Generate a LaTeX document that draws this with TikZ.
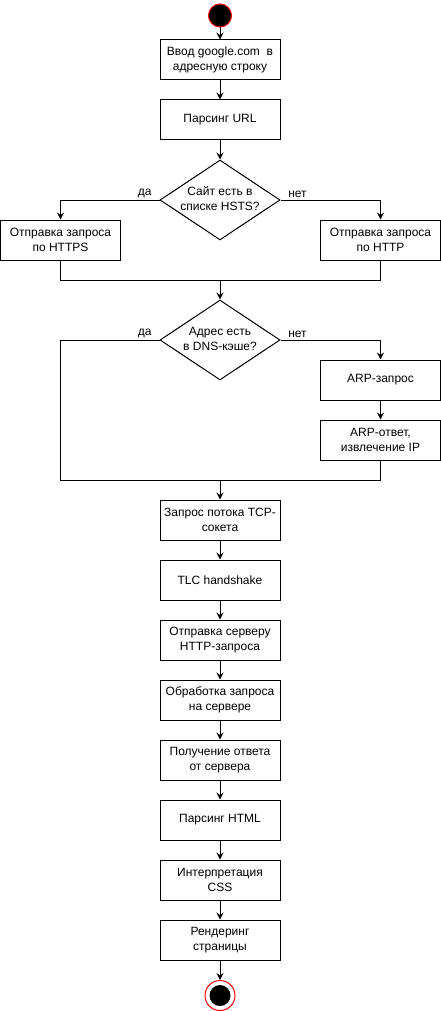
\documentclass[tikz,border=0pt]{standalone}
\usepackage{fontspec}
\setmainfont{Liberation Sans}
\usetikzlibrary{arrows.meta,shapes.geometric}
\begin{document}
\begin{tikzpicture}[x=1pt,y=-1pt,
  every node/.style={font=\fontsize{12}{14.5}\selectfont},
  box/.style={draw, line width=1pt, minimum width=120pt, minimum height=40pt, align=center, inner sep=0pt},
  dia/.style={draw, line width=1pt, diamond, minimum width=120pt, minimum height=80pt, inner sep=0pt},
  arr/.style={line width=1pt, -{Stealth[length=7pt,width=7pt,inset=2.5pt]}},
  ln/.style={line width=1pt},
  lbl/.style={inner sep=1.5pt}]
\useasboundingbox (0,0) rectangle (441,1011);
% start
\node[circle, draw=red, line width=1pt, fill=black, minimum size=23pt, inner sep=0pt] (start) at (220,15.5) {};
\node[box] (b1) at (220,60) {Ввод google.com\ \ в\\адресную строку};
\node[box] (b2) at (220,120) {Парсинг URL};
\node[dia, label={center:{\begin{tabular}{@{}c@{}}Сайт есть в\\списке HSTS?\end{tabular}}}] (d1) at (220,200) {};
\node[box] (https) at (60.5,240) {Отправка запроса\\по HTTPS};
\node[box] (http) at (380.5,240) {Отправка запроса\\по HTTP};
\coordinate (m1) at (220,280);
\node[dia, label={center:{\begin{tabular}{@{}c@{}}Адрес есть\\в DNS-кэше?\end{tabular}}}] (d2) at (220,340) {};
\node[box] (arp1) at (380.5,380) {ARP-запрос};
\node[box] (arp2) at (380.5,440) {ARP-ответ,\\извлечение IP};
\coordinate (c2) at (60.5,480);
\coordinate (m2) at (220,480);
\node[box] (tcp) at (220,520) {Запрос потока TCP-\\сокета};
\node[box] (tlc) at (220,580) {TLC handshake};
\node[box] (send) at (220,640) {Отправка серверу\\HTTP-запроса};
\node[box] (proc) at (220,700) {Обработка запроса\\на сервере};
\node[box] (recv) at (220,760) {Получение ответа\\от сервера};
\node[box] (html) at (220,820) {Парсинг HTML};
\node[box] (css) at (220,880) {Интерпретация\\CSS};
\node[box] (render) at (220,940) {Рендеринг\\страницы};
\node[circle, draw=red, line width=1pt, fill=white, minimum size=30pt, inner sep=0pt] (end) at (220,995.5) {};
\node[circle, fill=black, minimum size=21pt, inner sep=0pt] (endin) at (end.center) {};
% connectors
\draw[arr] (start) -- (b1);
\draw[arr] (b1) -- (b2);
\draw[arr] (b2) -- (d1);
\draw[arr] (d1.west) -| node[lbl, pos=0.075, above] {да} (https.north);
\draw[arr] (d1.east) -| node[lbl, pos=0.085, above] {нет} (http.north);
\draw[ln] (https.south) |- (m1);
\draw[ln] (http.south) |- (m1);
\draw[arr] (m1) -- (d2);
\draw[ln] (d2.west) -| node[lbl, pos=0.075, above] {да} (c2) -- (m2);
\draw[arr] (d2.east) -| node[lbl, pos=0.085, above] {нет} (arp1.north);
\draw[arr] (arp1) -- (arp2);
\draw[ln] (arp2.south) |- (m2);
\draw[arr] (m2) -- (tcp);
\draw[arr] (tcp) -- (tlc);
\draw[arr] (tlc) -- (send);
\draw[arr] (send) -- (proc);
\draw[arr] (proc) -- (recv);
\draw[arr] (recv) -- (html);
\draw[arr] (html) -- (css);
\draw[arr] (css) -- (render);
\draw[arr] (render) -- (end);
\end{tikzpicture}
\end{document}
